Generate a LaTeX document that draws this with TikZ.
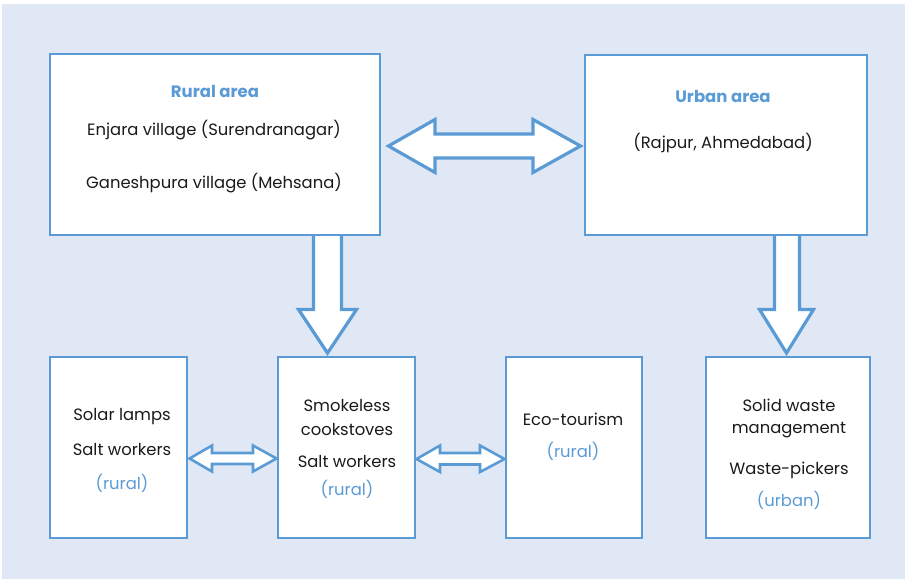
\documentclass[tikz,border=0pt]{standalone}
\usepackage{fontspec}
\setmainfont{Poppins}
\definecolor{bgblue}{HTML}{E1E8F5}
\definecolor{lineblue}{HTML}{5B9BD5}
\definecolor{txt}{HTML}{1A1A1A}
\tikzset{
  box/.style={draw=lineblue, line width=2.5pt, fill=white},
  lbl/.style={text=txt, font=\fontsize{16.4}{18}\selectfont, inner sep=0pt, anchor=center},
  blbl/.style={text=lineblue, font=\fontsize{16.4}{18}\selectfont, inner sep=0pt, anchor=center},
  hlbl/.style={text=lineblue, font=\fontsize{16.5}{18}\selectfont\bfseries, inner sep=0pt, anchor=center},
  bigarrow/.style={draw=lineblue, fill=white, line width=3.2pt, line join=miter},
  smallarrow/.style={draw=lineblue, fill=white, line width=2.6pt, line join=miter},
}
\begin{document}
\begin{tikzpicture}[x=1pt,y=-1pt]
\useasboundingbox (0,0) rectangle (905,579);
\fill[bgblue] (2,4) rectangle (905,579);
% boxes
\draw[box] (50,54) rectangle (380,235);
\draw[box] (585,55) rectangle (867,235);
\draw[box] (50,357) rectangle (187,538);
\draw[box] (278,357) rectangle (415,538);
\draw[box] (506,357) rectangle (642,538);
\draw[box] (706,357) rectangle (870,538);
% big double arrow
\draw[bigarrow] (388.5,146) -- (435,119.5) -- (435,134) -- (533,134) -- (533,119.5)
  -- (580.5,146) -- (533,172.5) -- (533,158) -- (435,158) -- (435,172.5) -- cycle;
% down arrows
\draw[bigarrow] (313.5,236) -- (313.5,309.5) -- (298.5,309.5) -- (327.5,353)
  -- (356.5,309.5) -- (341.5,309.5) -- (341.5,236);
\draw[bigarrow] (774.5,236) -- (774.5,309.5) -- (759.5,309.5) -- (786.5,353)
  -- (813.5,309.5) -- (799.5,309.5) -- (799.5,236);
% small double arrows
\draw[smallarrow] (189.5,458.5) -- (212,445.5) -- (212,453) -- (253,453) -- (253,445.5)
  -- (276.5,458.5) -- (253,471.5) -- (253,464) -- (212,464) -- (212,471.5) -- cycle;
\draw[smallarrow] (416.5,459) -- (440,445.5) -- (440,453) -- (480,453) -- (480,445.5)
  -- (504.5,459) -- (480,472) -- (480,464.5) -- (440,464.5) -- (440,472) -- cycle;
% texts
\node[hlbl] (t1) at (215,91) {Rural area};
\node[lbl] (t2) at (214,130) {Enjara village (Surendranagar)};
\node[lbl] (t3) at (214,183) {Ganeshpura village (Mehsana)};
\node[hlbl] (t4) at (723,96) {Urban area};
\node[lbl] (t5) at (723,143) {(Rajpur, Ahmedabad)};
\node[lbl] (t6) at (122,417) {Solar lamps};
\node[lbl] (t7) at (122,449) {Salt workers};
\node[blbl] (t8) at (122,483) {(rural)};
\node[lbl] (t9) at (347,405) {Smokeless};
\node[lbl] (t10) at (347,429) {cookstoves};
\node[lbl] (t11) at (347,461) {Salt workers};
\node[blbl] (t12) at (347,489) {(rural)};
\node[lbl] (t13) at (573,419) {Eco-tourism};
\node[blbl] (t14) at (573,451) {(rural)};
\node[lbl] (t15) at (789,405) {Solid waste};
\node[lbl] (t16) at (789,430) {management};
\node[lbl] (t17) at (789,470) {Waste-pickers};
\node[blbl] (t18) at (789,500) {(urban)};
\end{tikzpicture}
\end{document}
